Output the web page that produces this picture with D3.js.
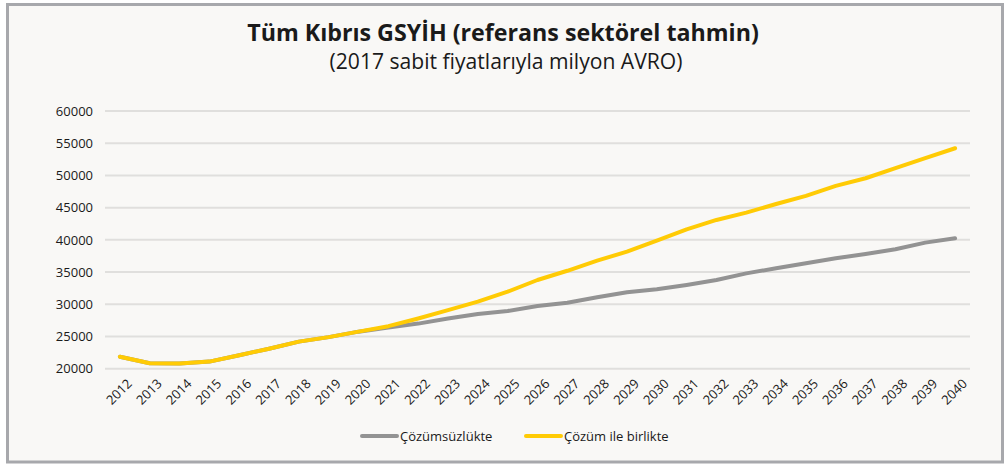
<!DOCTYPE html>
<html><head><meta charset="utf-8">
<script src="https://cdn.jsdelivr.net/npm/d3@7"></script>
<style>html,body{margin:0;padding:0;background:#fff;}svg{display:block;}</style>
</head><body>
<svg id="c" width="1004" height="465"></svg>
<script>
const years = d3.range(2012, 2041).map(String);
const noSolution = [21850,20850,20800,21100,22100,23100,24200,24900,25750,26400,27000,27800,28500,28950,29740,30250,31080,31860,32330,33000,33770,34800,35590,36360,37140,37810,38540,39570,40250];
const withSolution = [21850,20850,20800,21100,22100,23100,24200,24900,25750,26600,27800,29100,30400,31950,33770,35200,36770,38170,39880,41640,43090,44220,45570,46820,48370,49560,51120,52670,54220];
const yTicks = [20000,25000,30000,35000,40000,45000,50000,55000,60000];
const seriesNames = ["Çözümsüzlükte","Çözüm ile birlikte"];
const title = "Tüm Kıbrıs GSYİH (referans sektörel tahmin)";
const subtitle = "(2017 sabit fiyatlarıyla milyon AVRO)";

const svg = d3.select("#c");
const font = "'Open Sans', 'Noto Sans', sans-serif";
svg.append("rect").attr("x",7.5).attr("y",4.5).attr("width",995).attr("height",457.5)
  .attr("fill","#F9F8F6").attr("stroke","#A7A8AC").attr("stroke-width",3);

const x = d3.scalePoint().domain(years).range([105,970]).padding(0.5);
const y = d3.scaleLinear().domain([20000,60000]).range([368.7,111]);

// grid
svg.append("g").selectAll("line").data(yTicks).join("line")
  .attr("x1",105).attr("x2",970).attr("y1",d=>y(d)).attr("y2",d=>y(d))
  .attr("stroke","#E0DFDD").attr("stroke-width",2);

// y axis
const ya = svg.append("g").attr("transform","translate(105,0)")
  .call(d3.axisLeft(y).tickValues(yTicks).tickSize(0).tickPadding(12).tickFormat(d3.format("d")));
ya.select(".domain").remove();
ya.selectAll("text").attr("font-family",font).attr("font-size",13).attr("fill","#1a1a1a");

// x axis
const xa = svg.append("g").attr("transform","translate(0,372)")
  .call(d3.axisBottom(x).tickSize(0).tickPadding(0));
xa.select(".domain").remove();
xa.selectAll("text").attr("font-family",font).attr("font-size",13).attr("fill","#1a1a1a")
  .attr("text-anchor","end").attr("dy","0.7em")
  .attr("transform","translate(6,6) rotate(-45)");

const line = d3.line().x((d,i)=>x(years[i])).y(d=>y(d));
svg.append("path").datum(noSolution).attr("d",line).attr("fill","none")
  .attr("stroke","#939393").attr("stroke-width",4).attr("stroke-linecap","round").attr("stroke-linejoin","round");
svg.append("path").datum(withSolution).attr("d",line).attr("fill","none")
  .attr("stroke","#FFCB05").attr("stroke-width",4).attr("stroke-linecap","round").attr("stroke-linejoin","round");

// titles
const t1 = svg.append("text").attr("x",503).attr("y",41).attr("text-anchor","middle")
  .attr("font-family",font).attr("font-weight","bold").attr("font-size",22).attr("fill","#1a1a1a").text(title);
const w1 = t1.node().getComputedTextLength();
t1.attr("font-size", 22*512/w1);
const t2 = svg.append("text").attr("x",506).attr("y",69).attr("text-anchor","middle")
  .attr("font-family",font).attr("font-size",19).attr("fill","#1a1a1a").text(subtitle);
const w2 = t2.node().getComputedTextLength();
t2.attr("font-size", 19*353/w2);

// legend
const legendColors = ["#939393","#FFCB05"];
const legendX = [362,526];
const lg = svg.append("g");
seriesNames.forEach((n,i)=>{
  lg.append("line").attr("x1",legendX[i]).attr("x2",legendX[i]+35).attr("y1",436).attr("y2",436)
    .attr("stroke",legendColors[i]).attr("stroke-width",4).attr("stroke-linecap","round");
  lg.append("text").attr("x",legendX[i]+38).attr("y",441).attr("font-family",font).attr("font-size",13)
    .attr("fill","#1a1a1a").text(n);
});
</script>
</body></html>
